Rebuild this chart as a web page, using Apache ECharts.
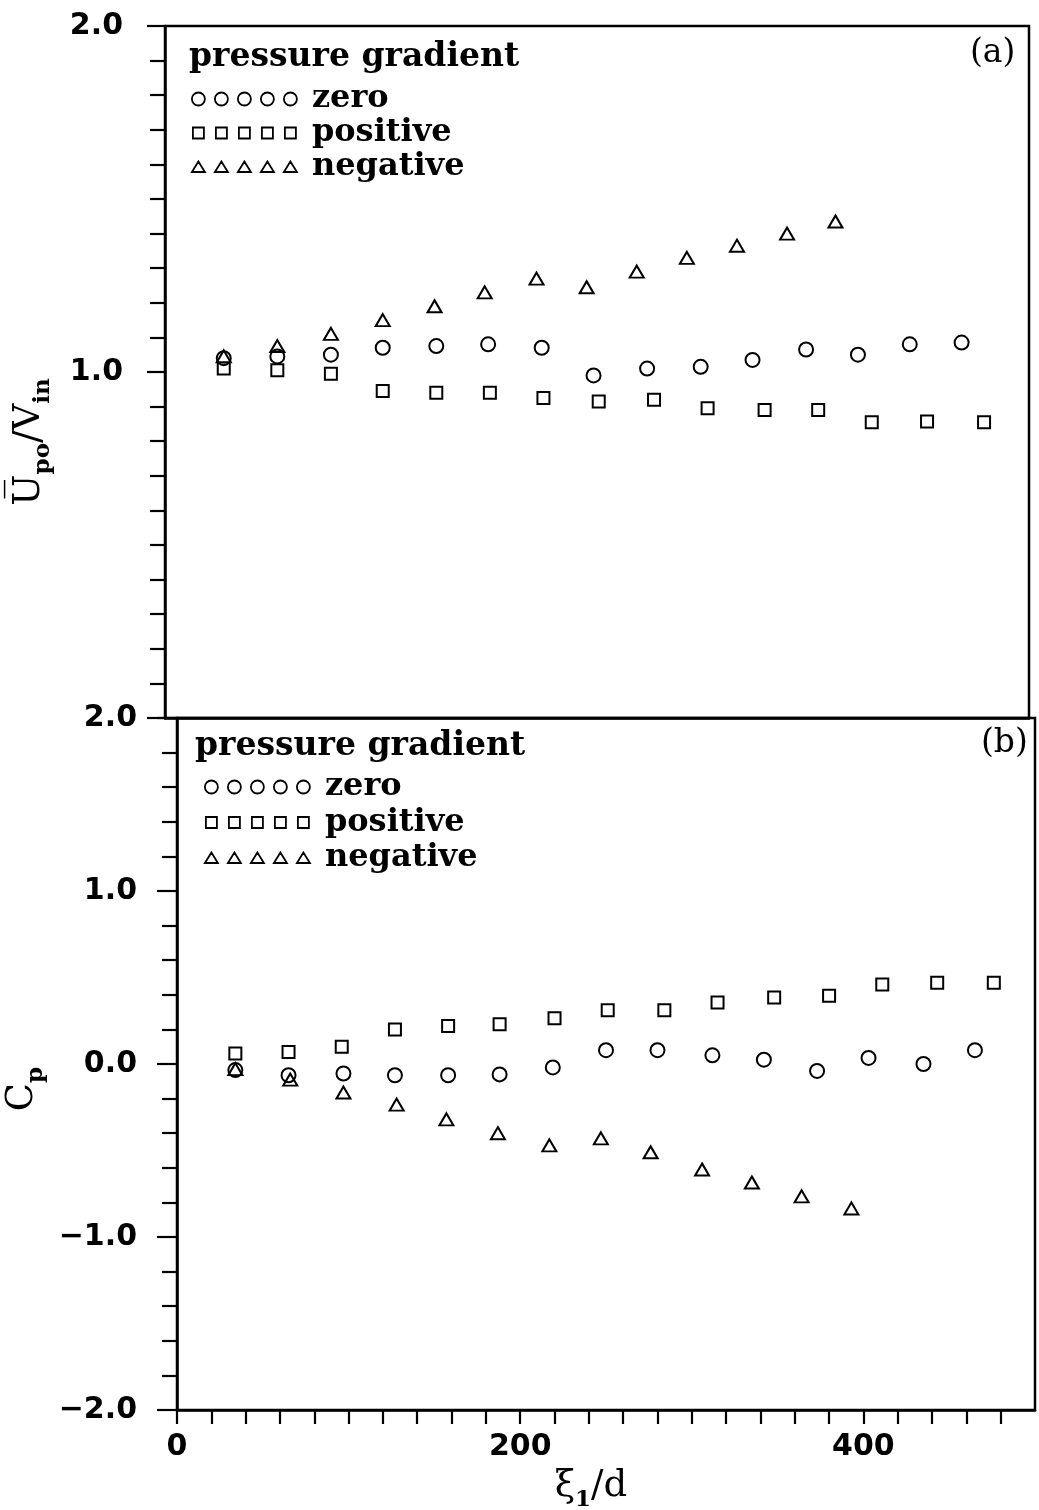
<!DOCTYPE html>
<html><head><meta charset="utf-8">
<script src="https://cdn.jsdelivr.net/npm/echarts@6/dist/echarts.min.js"></script>
<style>html,body{margin:0;padding:0;background:#fff}#c{width:1039px;height:1510px}</style>
</head><body><div id="c"></div>
<script>
// ---- data ----
const seriesNames = ['zero', 'positive', 'negative'];
// panel (a): mean velocity ratio
const topZeroX = [34, 65, 96, 126, 157, 187, 218, 248, 279, 310, 340, 371, 401, 431, 461];
const topZeroY = [1.04, 1.045, 1.05, 1.07, 1.075, 1.08, 1.07, 0.99, 1.01, 1.015, 1.035, 1.065, 1.05, 1.08, 1.085];
const topPosX = [34, 65, 96, 126, 157, 188, 219, 251, 283, 314, 347, 378, 409, 441, 474];
const topPosY = [1.01, 1.005, 0.995, 0.945, 0.94, 0.94, 0.925, 0.915, 0.92, 0.895, 0.89, 0.89, 0.855, 0.857, 0.855];
const topNegX = [34, 65, 96, 126, 156, 185, 215, 244, 273, 302, 331, 360, 388];
const topNegY = [1.045, 1.075, 1.11, 1.15, 1.19, 1.23, 1.27, 1.245, 1.29, 1.33, 1.365, 1.40, 1.435];
// panel (b): pressure coefficient
const botZeroX = [34, 65, 97, 127, 158, 188, 219, 250, 280, 312, 342, 373, 403, 435, 465];
const botZeroY = [-0.035, -0.065, -0.055, -0.065, -0.065, -0.06, -0.02, 0.08, 0.08, 0.05, 0.025, -0.04, 0.035, 0.0, 0.08];
const botPosX = [34, 65, 96, 127, 158, 188, 220, 251, 284, 315, 348, 380, 411, 443, 476];
const botPosY = [0.06, 0.07, 0.10, 0.20, 0.22, 0.23, 0.265, 0.31, 0.31, 0.355, 0.385, 0.395, 0.46, 0.47, 0.47];
const botNegX = [34, 66, 97, 128, 157, 187, 217, 247, 276, 306, 335, 364, 393];
const botNegY = [-0.03, -0.09, -0.165, -0.235, -0.32, -0.40, -0.47, -0.43, -0.51, -0.61, -0.685, -0.765, -0.835];
// tick labels
const xTickLabels = [0, 200, 400];
const yTopTickLabels = [1, 2];
const yBotTickLabels = [-2, -1, 0, 1, 2];

// ---- helpers ----
const pair = (xs, ys) => xs.map((x, i) => [x, ys[i]]);
const SERIF = 'DejaVu Serif';
const SANS = 'DejaVu Sans';
const fmtNum = v => (v < 0 ? '\u2212' : '') + Math.abs(v).toFixed(1);

// legend icons: five repeated symbols
const IW = 108, IH = 15;
function iconPath(kind) {
  let p = 'path://M0,0M' + IW + ',' + IH;
  for (let k = 0; k < 5; k++) {
    const cx = 7.5 + 23 * k, cy = 7.5;
    if (kind === 'circle') {
      const r = 6.5;
      p += `M${cx - r},${cy}A${r},${r},0,1,0,${cx + r},${cy}A${r},${r},0,1,0,${cx - r},${cy}Z`;
    } else if (kind === 'rect') {
      p += `M${cx - 5.5},${cy - 5.5}L${cx + 5.5},${cy - 5.5}L${cx + 5.5},${cy + 5.5}L${cx - 5.5},${cy + 5.5}Z`;
    } else {
      p += `M${cx},${cy - 5.5}L${cx + 6.5},${cy + 5}L${cx - 6.5},${cy + 5}Z`;
    }
  }
  return p;
}
const icons = [iconPath('circle'), iconPath('rect'), iconPath('triangle')];
const symbols = ['circle', 'rect', 'triangle'];
const symbolSizes = [14, 12, [14, 12]];

const axisLineStyle = { color: '#000', width: 2.5 };
const tickStyle = { color: '#000', width: 2.2 };
const labelFont = { color: '#000', fontFamily: SANS, fontWeight: 'bold', fontSize: 30 };

function scatter(name, idx, data, grid) {
  return {
    type: 'scatter', name, xAxisIndex: grid, yAxisIndex: grid, data,
    symbol: symbols[idx], symbolSize: symbolSizes[idx],
    itemStyle: { color: 'rgba(255,255,255,0)', borderColor: '#000', borderWidth: 2, opacity: 1 },
    emphasis: { disabled: true }, z: 5
  };
}

function legendFor(left, top, gap) {
  return {
    data: seriesNames.map((n, i) => ({ name: n, icon: icons[i] })),
    orient: 'vertical', left, top, padding: 0,
    itemWidth: IW, itemHeight: IH, itemGap: gap, selectedMode: false,
    itemStyle: { color: 'rgba(255,255,255,0)', borderColor: '#000', borderWidth: 1.8, opacity: 1 },
    textStyle: { fontFamily: SERIF, fontWeight: 'bold', fontSize: 32, color: '#000', lineHeight: 31, padding: [0, 0, 0, 8] }
  };
}

const titleStyle = { fontFamily: SERIF, fontWeight: 'bold', fontSize: 33, color: '#000' };
const panelStyle = { fontFamily: SERIF, fontWeight: 'normal', fontSize: 33, color: '#000' };
const nameRich = {
  m: { fontFamily: SERIF, fontSize: 37, color: '#000', verticalAlign: 'bottom', padding: [0, 0, 7, 0] },
  s: { fontFamily: SERIF, fontSize: 23, fontWeight: 'bold', color: '#000', verticalAlign: 'bottom' }
};

const chart = echarts.init(document.getElementById('c'), null, { renderer: 'canvas' });
chart.setOption({
  backgroundColor: '#fff',
  animation: false,
  title: [
    { text: 'pressure gradient', left: 189, top: 41, padding: 0, textStyle: titleStyle },
    { text: 'pressure gradient', left: 195, top: 730, padding: 0, textStyle: titleStyle },
    { text: '(a)', left: 970, top: 37, padding: 0, textStyle: panelStyle },
    { text: '(b)', left: 981, top: 727, padding: 0, textStyle: panelStyle }
  ],
  legend: [legendFor(190, 83, 2), legendFor(203, 771, 3.5)],
  grid: [
    { left: 165, top: 26, width: 864, height: 692, show: true, borderColor: '#000', borderWidth: 2.5,
      backgroundColor: 'transparent', outerBoundsMode: 'none', containLabel: false },
    { left: 177, top: 718, width: 858, height: 692, show: true, borderColor: '#000', borderWidth: 2.5,
      backgroundColor: 'transparent', outerBoundsMode: 'none', containLabel: false }
  ],
  xAxis: [
    {
      gridIndex: 0, type: 'value', min: 0, max: 500, interval: 100,
      axisLine: { show: true, onZero: false, lineStyle: axisLineStyle }, axisTick: { show: false },
      axisLabel: { show: false }, splitLine: { show: false }
    },
    {
      gridIndex: 1, type: 'value', min: 0, max: 500, interval: 20,
      axisLine: { show: true, onZero: false, lineStyle: axisLineStyle },
      axisTick: { show: true, length: 14, lineStyle: tickStyle },
      splitLine: { show: false },
      axisLabel: Object.assign({ margin: 22, showMaxLabel: false,
        formatter: v => xTickLabels.includes(v) ? String(v) : '' }, labelFont),
      name: '{m|\u03be}{s|1}{m|/d}', nameLocation: 'middle', nameGap: 58,
      nameTextStyle: { padding: [0, 30, 0, 0], rich: nameRich }
    }
  ],
  yAxis: [
    {
      gridIndex: 0, type: 'value', min: 0, max: 2, interval: 1,
      axisLine: { show: true, onZero: false, lineStyle: axisLineStyle },
      axisTick: { show: true, length: 18, lineStyle: tickStyle },
      minorTick: { show: true, splitNumber: 10, length: 15, lineStyle: tickStyle },
      splitLine: { show: false }, minorSplitLine: { show: false },
      axisLabel: Object.assign({ margin: 42, showMinLabel: false,
        formatter: v => yTopTickLabels.includes(v) ? fmtNum(v) : '' }, labelFont),
      name: '{m|U\u0305}{s|po}{m|/V}{s|in}', nameLocation: 'middle', nameRotate: 90, nameGap: 110,
      nameTextStyle: { padding: [0, 140, 0, 0], rich: nameRich }
    },
    {
      gridIndex: 1, type: 'value', min: -2, max: 2, interval: 1,
      axisLine: { show: true, onZero: false, lineStyle: axisLineStyle },
      axisTick: { show: true, length: 20, lineStyle: tickStyle },
      minorTick: { show: true, splitNumber: 5, length: 15, lineStyle: tickStyle },
      splitLine: { show: false }, minorSplitLine: { show: false },
      axisLabel: Object.assign({ margin: 40,
        formatter: v => yBotTickLabels.includes(v) ? fmtNum(v) : '' }, labelFont),
      name: '{m|C}{s|p}', nameLocation: 'middle', nameRotate: 90, nameGap: 126,
      nameTextStyle: { padding: [0, 50, 0, 0], rich: nameRich }
    }
  ],
  series: [
    scatter('zero', 0, pair(topZeroX, topZeroY), 0),
    scatter('positive', 1, pair(topPosX, topPosY), 0),
    scatter('negative', 2, pair(topNegX, topNegY), 0),
    scatter('zero', 0, pair(botZeroX, botZeroY), 1),
    scatter('positive', 1, pair(botPosX, botPosY), 1),
    scatter('negative', 2, pair(botNegX, botNegY), 1)
  ]
});
</script>
</body></html>
